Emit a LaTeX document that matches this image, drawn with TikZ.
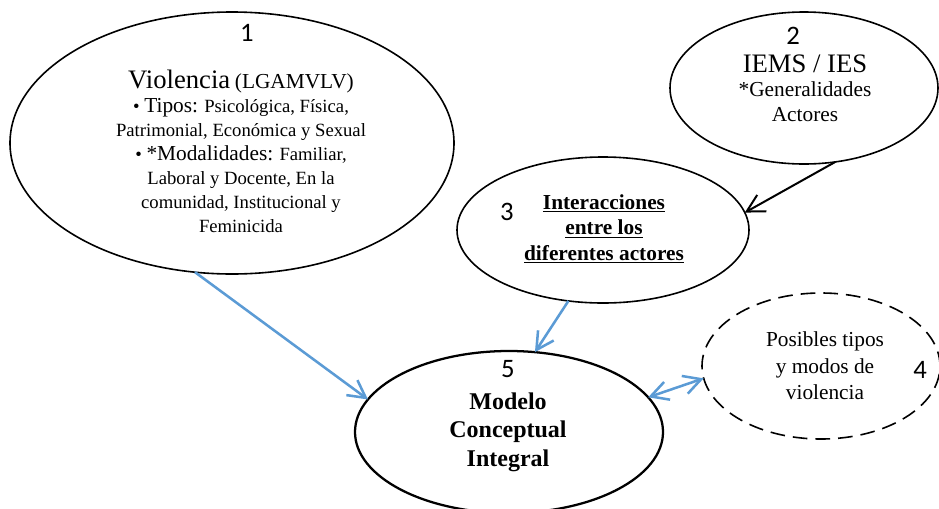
\documentclass[tikz,border=0pt]{standalone}
\usepackage{fontspec}
\setmainfont{Liberation Serif}
\newfontfamily\numfont{Carlito}
\usepackage{tikz}
\usetikzlibrary{arrows.meta,shapes.geometric,positioning}
\definecolor{linkblue}{HTML}{5B9BD5}

\begin{document}
\begin{tikzpicture}[
    x=0.75pt, y=-0.75pt,
    bubble/.style={ellipse, draw, line width=1.2pt, inner sep=0pt, outer sep=0pt},
    txt/.style={align=center, inner sep=0pt},
    num/.style={font=\numfont\fontsize{20}{24}\selectfont, inner sep=0pt},
    arrow/.style={-{Straight Barb[length=13pt,width=14pt]}, line width=1.9pt, linkblue},
    darrow/.style={{Straight Barb[length=13pt,width=14pt]}-{Straight Barb[length=13pt,width=14pt]}, line width=1.9pt, linkblue}
]
    \useasboundingbox (0,0) rectangle (939,508);

    % the five bubbles
    \node[bubble, minimum width=333pt, minimum height=196.5pt] (violencia) at (232,143) {};
    \node[bubble, minimum width=201pt, minimum height=114pt] (iems) at (804,88) {};
    \node[bubble, minimum width=219pt, minimum height=109.5pt] (interac) at (603,230) {};
    \node[bubble, dashed, dash pattern=on 11pt off 6pt, minimum width=178.5pt, minimum height=109.5pt] (posibles) at (821,366) {};
    \node[bubble, line width=1.7pt, minimum width=231pt, minimum height=121.5pt] (modelo) at (509,432) {};

    \node[num] (n1) at (247,33) {1};
    \node[num] (n2) at (793,36) {2};
    \node[num] (n3) at (507,212) {3};
    \node[num] (n4) at (920,370) {4};
    \node[num] (n5) at (508,369) {5};

    \node[txt, font=\fontsize{14}{18}\selectfont] (violtxt) at (241,151) {%
        {\fontsize{20}{18}\selectfont Violencia} {\fontsize{16}{18}\selectfont (LGAMVLV)}\\
        \textbullet\ {\fontsize{16}{18}\selectfont Tipos:} Psicológica, Física,\\
        Patrimonial, Económica y Sexual\\
        \textbullet\ {\fontsize{16}{18}\selectfont *Modalidades:} Familiar,\\
        Laboral y Docente, En la\\
        comunidad, Institucional y\\
        Feminicida};
    \node[txt, font=\fontsize{16}{18.5}\selectfont] (iemstxt) at (805,88) {%
        {\fontsize{20}{18.5}\selectfont IEMS / IES}\\
        *Generalidades\\
        Actores};
    \node[txt, font=\bfseries\fontsize{16}{19}\selectfont] (interactxt) at (604,229) {%
        \underline{Interacciones}\\
        \underline{entre los}\\
        \underline{diferentes actores}};
    \node[txt, font=\fontsize{16}{20}\selectfont] (posiblestxt) at (825,366) {%
        Posibles tipos\\
        y modos de\\
        violencia};
    \node[txt, font=\bfseries\fontsize{18}{21.5}\selectfont] (modelotxt) at (508,432) {%
        Modelo\\
        Conceptual\\
        Integral};

    \draw[arrow] (violencia.-106) -- (modelo.167);
    \draw[arrow] (interac.-116) -- (modelo.72);
    \draw[darrow] (modelo.14) -- (posibles.-174);
    \draw[-{Straight Barb[length=13pt,width=14pt]}, line width=1.5pt] (iems.-67) -- (interac.7);
\end{tikzpicture}
\end{document}
